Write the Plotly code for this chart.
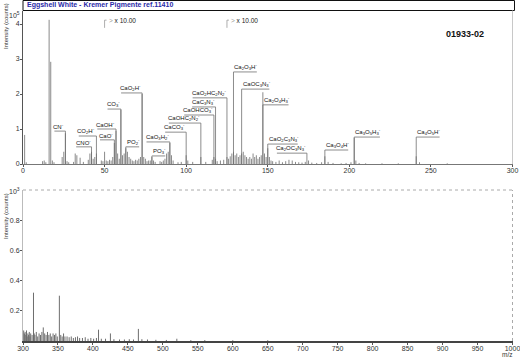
import re
import plotly.graph_objects as go

W, H = 520, 359

# ---------------- data ----------------
# upper panel: m/z 0-300, displayed intensity in units of 1e5 counts
top_mz = [1, 2, 12, 13, 14, 16, 17, 18, 19, 24, 25, 26, 27, 28, 31, 32, 33, 35, 37,
          40, 41, 42, 43, 44, 45, 48, 49, 50, 51, 52, 53, 54, 55, 56, 57, 58, 59, 60,
          61, 62, 63, 64, 65, 66, 67, 68, 69, 70, 71, 72, 73, 74, 75, 76, 77, 78, 79,
          80, 81, 84, 85, 86, 87, 88, 89, 90, 91, 92, 95, 97, 100, 101, 104, 109, 112,
          116, 117, 118, 119, 121, 123, 125, 126, 127, 128, 129, 130, 131, 132, 133,
          134, 135, 136, 137, 138, 139, 140, 141, 142, 143, 144, 145, 146, 147, 148,
          149, 150, 151, 152, 153, 155, 157, 159, 161, 163, 165, 167, 169, 171, 173,
          175, 177, 180, 183, 185, 187, 190, 195, 198, 201, 203, 204, 206, 210, 220,
          230, 241, 243, 260]
top_int = [0.83, 0.05, 0.08, 0.10, 0.05, 4.12, 2.92, 0.10, 0.05, 0.20, 0.35, 0.88, 0.08,
           0.05, 0.06, 0.30, 0.25, 0.18, 0.06, 0.12, 0.30, 0.35, 0.15, 0.20, 0.30, 0.10,
           0.08, 0.35, 0.10, 0.08, 0.12, 0.10, 0.20, 0.60, 0.95, 0.30, 0.15, 1.55, 0.25,
           0.30, 0.45, 0.35, 0.20, 0.15, 0.10, 0.08, 0.12, 0.10, 0.15, 0.20, 2.00, 0.20,
           0.15, 0.08, 0.10, 0.10, 0.20, 0.10, 0.06, 0.08, 0.06, 0.10, 0.15, 0.30, 0.35,
           0.60, 0.25, 0.10, 0.05, 0.06, 0.25, 0.10, 0.06, 0.20, 0.06, 0.12, 0.20, 0.15,
           0.08, 0.10, 0.12, 0.20, 0.15, 0.22, 0.30, 0.35, 0.25, 0.30, 0.20, 0.25, 0.30,
           0.35, 0.25, 0.20, 0.15, 0.20, 0.15, 0.30, 0.20, 0.25, 0.15, 0.20, 0.25, 2.05,
           0.30, 0.20, 0.45, 0.20, 0.10, 0.08, 0.06, 0.10, 0.05, 0.08, 0.12, 0.10, 0.06,
           0.05, 0.04, 0.06, 0.10, 0.04, 0.03, 0.05, 0.22, 0.06, 0.03, 0.02, 0.03, 0.05,
           0.75, 0.10, 0.03, 0.02, 0.02, 0.02, 0.22, 0.05, 0.02]

# lower panel: m/z 300-1000, intensity in units of 1e3 counts
bot_mz = [301, 302, 303, 304, 305, 306, 307, 308, 309, 310, 311, 313, 315, 316, 317, 319,
          321, 323, 325, 327, 329, 331, 333, 335, 337, 339, 341, 343, 345, 347, 349, 352,
          354, 356, 358, 360, 363, 366, 369, 372, 375, 378, 381, 385, 389, 393, 397, 401,
          405, 408, 412, 418, 425, 430, 438, 445, 452, 458, 465, 470, 478, 490, 505, 520,
          540, 560, 600, 650]
bot_int = [0.07, 0.05, 0.06, 0.04, 0.07, 0.03, 0.05, 0.04, 0.06, 0.03, 0.05, 0.04, 0.32,
           0.05, 0.04, 0.06, 0.03, 0.05, 0.04, 0.06, 0.09, 0.05, 0.04, 0.06, 0.04, 0.05,
           0.03, 0.05, 0.04, 0.05, 0.03, 0.30, 0.04, 0.03, 0.05, 0.03, 0.03, 0.025, 0.03,
           0.02, 0.025, 0.03, 0.02, 0.02, 0.025, 0.015, 0.02, 0.015, 0.02, 0.075, 0.015,
           0.015, 0.05, 0.012, 0.01, 0.01, 0.012, 0.01, 0.08, 0.012, 0.01, 0.008, 0.007,
           0.015, 0.006, 0.006, 0.005, 0.005]

# peak assignments (upper panel)
label_text = ["CN<sup>-</sup>", "CO<sub>2</sub>H<sup>-</sup>", "CNO<sup>-</sup>",
              "CaOH<sup>-</sup>", "CaO<sup>-</sup>", "CO<sub>3</sub><sup>-</sup>",
              "CaO<sub>2</sub>H<sup>-</sup>", "PO<sub>2</sub><sup>-</sup>",
              "PO<sub>3</sub><sup>-</sup>", "CaO<sub>3</sub>H<sub>2</sub><sup>-</sup>",
              "CaCO<sub>3</sub><sup>-</sup>", "CaOHC<sub>2</sub>N<sub>2</sub><sup>-</sup>",
              "CaOHCO<sub>3</sub><sup>-</sup>", "CaC<sub>3</sub>N<sub>3</sub><sup>-</sup>",
              "CaO<sub>2</sub>HC<sub>2</sub>N<sub>2</sub><sup>-</sup>",
              "Ca<sub>2</sub>O<sub>3</sub>H<sup>-</sup>",
              "CaOC<sub>3</sub>N<sub>3</sub><sup>-</sup>",
              "Ca<sub>2</sub>O<sub>4</sub>H<sub>3</sub><sup>-</sup>",
              "CaO<sub>2</sub>C<sub>3</sub>N<sub>3</sub><sup>-</sup>",
              "Ca<sub>2</sub>OC<sub>3</sub>N<sub>3</sub><sup>-</sup>",
              "Ca<sub>3</sub>O<sub>4</sub>H<sup>-</sup>",
              "Ca<sub>3</sub>O<sub>5</sub>H<sub>3</sub><sup>-</sup>",
              "Ca<sub>4</sub>O<sub>5</sub>H<sup>-</sup>"]
label_mz = [26, 45, 42, 57, 56, 60, 73, 63, 79, 90, 100, 109, 117, 118, 125, 129, 134,
            147, 150, 174, 185, 203, 241]
label_y = [0.94, 0.80, 0.49, 1.00, 0.69, 1.57, 2.03, 0.49, 0.23, 0.63, 0.91, 1.17, 1.40,
           1.63, 1.89, 2.63, 2.14, 1.69, 0.57, 0.31, 0.40, 0.77, 0.77]
label_side = ["L", "L", "L", "L", "L", "L", "L", "R", "R", "L", "L", "L", "L", "L", "L",
              "R", "R", "R", "R", "L", "R", "R", "R"]

scale_mz = [50, 125]
scale_text = "x 10.00"

top_xticks = [0, 50, 100, 150, 200, 250, 300]
top_yticks = [0, 1, 2, 3, 4]
bot_xticks = [300, 350, 400, 450, 500, 550, 600, 650, 700, 750, 800, 850, 900, 950, 1000]
bot_yticks = [0.2, 0.4, 0.6, 0.8]

title_text = "Eggshell White - Kremer Pigmente ref.11410"
sample_id = "01933-02"

# ---------------- layout helpers ----------------
FONT = "Arial, Liberation Sans, sans-serif"
XD = [23 / W, 512.5 / W]
TOP_Y = [1 - 164 / H, 1 - 11 / H]
TOP_RANGE = [0, (164 - 11) / 35.0]
BOT_Y = [1 - 341 / H, 1 - 190 / H]
PX_PER_MZ_TOP = (512.5 - 23) / 300.0


def stems(xs, ys):
    sx, sy = [], []
    for x, y in zip(xs, ys):
        sx += [x, x, None]
        sy += [0, y, None]
    return sx, sy


def text_width_px(html, size=6.0):
    w = 0.0
    for m in re.finditer(r"<(sub|sup)>(.*?)</\1>|([^<]+)", html):
        if m.group(3):
            for ch in m.group(3):
                if ch.isupper():
                    w += 0.72 * size
                elif ch == "-":
                    w += 0.33 * size
                else:
                    w += 0.556 * size
        else:
            for ch in m.group(2):
                w += (0.33 if ch == "-" else 0.556) * size * 0.7
    return w


fig = go.Figure()

# spectra
sx, sy = stems(top_mz, top_int)
fig.add_trace(go.Scatter(x=sx, y=sy, mode="lines", line=dict(color="#8a8a8a", width=1),
                         hoverinfo="skip", xaxis="x", yaxis="y"))
bx, by = stems(bot_mz, bot_int)
fig.add_trace(go.Scatter(x=bx, y=by, mode="lines", line=dict(color="#6e6e6e", width=1),
                         hoverinfo="skip", xaxis="x2", yaxis="y2"))

# leader lines and labels
annotations = []
lx, ly = [], []
for t, m, yv, side in zip(label_text, label_mz, label_y, label_side):
    wdat = (text_width_px(t) + 1) / PX_PER_MZ_TOP
    x_end = m - wdat if side == "L" else m + wdat
    lx += [x_end, m, m, None]
    ly += [yv, yv, 0, None]
    annotations.append(dict(x=m, y=yv, xref="x", yref="y", text=t, showarrow=False,
                            xanchor="right" if side == "L" else "left", yanchor="bottom",
                            borderpad=0, font=dict(family=FONT, size=6, color="#111")))
fig.add_trace(go.Scatter(x=lx, y=ly, mode="lines", line=dict(color="#707070", width=0.8),
                         hoverinfo="skip", xaxis="x", yaxis="y"))

# x10 scale markers
mx, my = [], []
for m in scale_mz:
    mx += [m, m, m + 1.2, None]
    my += [3.89, 4.11, 4.11, None]
    annotations.append(dict(x=m + 1.2, y=4.09, xref="x", yref="y",
                            text="<span style='color:#999'>&gt;</span> " + scale_text,
                            showarrow=False, xanchor="left", yanchor="middle",
                            font=dict(family=FONT, size=6.5, color="#222")))
fig.add_trace(go.Scatter(x=mx, y=my, mode="lines", line=dict(color="#999", width=0.8),
                         hoverinfo="skip", xaxis="x", yaxis="y"))

# fixed texts
annotations += [
    dict(x=25 / W, y=1 - 5.5 / H, xref="paper", yref="paper", text="<b>" + title_text + "</b>",
         showarrow=False, xanchor="left", yanchor="middle",
         font=dict(family=FONT, size=7, color="#2a2aa8")),
    dict(x=465 / W, y=1 - 34 / H, xref="paper", yref="paper", text="<b>" + sample_id + "</b>",
         showarrow=False, xanchor="center", yanchor="middle",
         font=dict(family=FONT, size=9, color="#111")),
    dict(x=6 / W, y=1 - 26 / H, xref="paper", yref="paper", text="Intensity (counts)",
         textangle=-90, showarrow=False, xanchor="center", yanchor="middle",
         font=dict(family=FONT, size=6, color="#333")),
    dict(x=6 / W, y=1 - 216 / H, xref="paper", yref="paper", text="Intensity (counts)",
         textangle=-90, showarrow=False, xanchor="center", yanchor="middle",
         font=dict(family=FONT, size=6, color="#333")),
    dict(x=21.5 / W, y=1 - 15 / H, xref="paper", yref="paper", text="10<sup>5</sup>",
         showarrow=False, xanchor="right", yanchor="middle",
         font=dict(family=FONT, size=7, color="#333")),
    dict(x=21.5 / W, y=1 - 191 / H, xref="paper", yref="paper", text="10<sup>3</sup>",
         showarrow=False, xanchor="right", yanchor="middle",
         font=dict(family=FONT, size=7, color="#333")),
    dict(x=507 / W, y=1 - 354.5 / H, xref="paper", yref="paper", text="m/z",
         showarrow=False, xanchor="center", yanchor="middle",
         font=dict(family=FONT, size=6.5, color="#333")),
]

shapes = [
    # title box
    dict(type="rect", xref="paper", yref="paper", x0=23 / W, x1=514.5 / W,
         y0=1 - 10.5 / H, y1=1 - 0.5 / H, line=dict(color="#111", width=1)),
    # right border of top panel
    dict(type="line", xref="paper", yref="paper", x0=XD[1], x1=XD[1],
         y0=TOP_Y[0], y1=1 - 10.5 / H, line=dict(color="#c8c8c8", width=1)),
    # dotted frame of bottom panel
    dict(type="line", xref="paper", yref="paper", x0=XD[0], x1=XD[1],
         y0=BOT_Y[1], y1=BOT_Y[1], line=dict(color="#aaa", width=1, dash="dot")),
    dict(type="line", xref="paper", yref="paper", x0=XD[1], x1=XD[1],
         y0=BOT_Y[0], y1=BOT_Y[1], line=dict(color="#aaa", width=1, dash="dot")),
]

axis_common = dict(showgrid=False, zeroline=False, showline=True, ticks="outside",
                   ticklen=2, tickwidth=1, automargin=False, ticklabeloverflow="allow",
                   tickfont=dict(family=FONT, size=7, color="#333"))

fig.update_layout(
    width=W, height=H, margin=dict(l=0, r=0, t=0, b=0, autoexpand=False),
    paper_bgcolor="white", plot_bgcolor="white", showlegend=False,
    xaxis=dict(domain=XD, range=[0, 300], tickvals=top_xticks, anchor="y",
               linecolor="#777", tickcolor="#555", ticklabelstandoff=-2, **axis_common),
    yaxis=dict(domain=TOP_Y, range=TOP_RANGE, tickvals=top_yticks, anchor="x",
               linecolor="#555", tickcolor="#555", ticklabelstandoff=-1, **axis_common),
    xaxis2=dict(domain=XD, range=[300, 1000], tickvals=bot_xticks, anchor="y2",
                linecolor="#444", linewidth=1.5, tickcolor="#555", ticklabelstandoff=-2,
                **axis_common),
    yaxis2=dict(domain=BOT_Y, range=[0, 1.0], tickvals=bot_yticks, anchor="x2",
                linecolor="#bbb", tickcolor="#555", ticklabelstandoff=-1, **axis_common),
    annotations=annotations, shapes=shapes,
)

fig.write_html("out.html", config={"displayModeBar": False},
               post_script="document.body.style.margin='0';document.body.style.overflow='hidden';")
